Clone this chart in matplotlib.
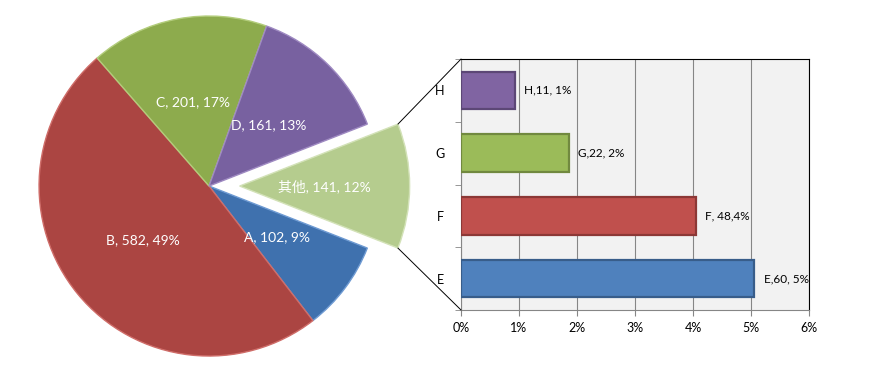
import matplotlib

matplotlib.use("Agg")
import matplotlib.pyplot as plt
import matplotlib.ticker as ticker
import numpy as np
from matplotlib.patches import ConnectionPatch

plt.rcParams["font.family"] = ["Lato", "Noto Sans CJK SC", "DejaVu Sans"]

# --- data ---
pie_names = ["A", "B", "C", "D", "其他"]
pie_values = [102, 582, 201, 161, 141]
pie_pct_text = ["9%", "49%", "17%", "13%", "12%"]
pie_colors = ["#3f71ae", "#ab4542", "#8dab4d", "#7861a0", "#b5cc8e"]
pie_edges = ["#6f9bd3", "#cf6d69", "#b3cd7c", "#9f8ac2", "#d3e2b8"]

bar_names = ["E", "F", "G", "H"]
bar_counts = [60, 48, 22, 11]
bar_label_text = ["E,60, 5%", "F, 48,4%", "G,22, 2%", "H,11, 1%"]
bar_colors = ["#4f81bd", "#c0504d", "#9bbb59", "#8064a2"]
bar_edges = ["#385d8a", "#8c3836", "#71893f", "#5c4776"]

total = sum(pie_values)
bar_shares = [c / total for c in bar_counts]

fig = plt.figure(figsize=(8.71, 3.82), dpi=100)

# --- pie (left) ---
ax_pie = fig.add_axes([0.0448, 0.068, 0.3904, 0.890])
labels = [f"{n}, {v}, {p}" for n, v, p in zip(pie_names, pie_values, pie_pct_text)]
wedges, texts = ax_pie.pie(
    pie_values,
    labels=labels,
    colors=pie_colors,
    explode=[0, 0, 0, 0, 0.18],
    startangle=-21.4,
    counterclock=False,
    labeldistance=0.5,
    wedgeprops=dict(linewidth=1.0),
    textprops=dict(color="white", fontsize=10),
)
for w, ec in zip(wedges, pie_edges):
    w.set_edgecolor(ec)
    w.set_clip_on(False)
for t in texts:
    t.set_horizontalalignment("center")
    t.set_verticalalignment("center")
ax_pie.set_xlim(-1, 1)
ax_pie.set_ylim(-1, 1)
ax_pie.set_aspect("equal")
ax_pie.axis("off")

# --- bar (right) ---
ax_bar = fig.add_axes([0.5293, 0.1885, 0.3995, 0.657])
ax_bar.set_facecolor("#f2f2f2")
y = np.arange(len(bar_names))
bars = ax_bar.barh(y, bar_shares, height=0.6, color=bar_colors,
                   edgecolor=bar_edges, linewidth=1.6, zorder=3)
for b, txt in zip(bars, bar_label_text):
    ax_bar.annotate(txt, (b.get_width(), b.get_y() + b.get_height() / 2),
                    xytext=(7, 0), textcoords="offset points",
                    va="center", ha="left", fontsize=8.5, color="black")

ax_bar.set_xlim(0, 0.06)
ax_bar.set_ylim(-0.5, len(bar_names) - 0.5)
ax_bar.xaxis.set_major_locator(ticker.MultipleLocator(0.01))
ax_bar.xaxis.set_major_formatter(ticker.PercentFormatter(1, decimals=0))
ax_bar.set_yticks(y)
ax_bar.set_yticklabels(bar_names)
ax_bar.yaxis.set_minor_locator(ticker.FixedLocator(np.arange(-0.5, len(bar_names), 1)))
ax_bar.tick_params(axis="y", which="major", length=0, pad=12, labelsize=9)
ax_bar.tick_params(axis="y", which="minor", length=4, color="#868686", direction="out")
ax_bar.tick_params(axis="x", length=4, color="#868686", direction="out", labelsize=9, pad=5)
ax_bar.grid(axis="x", color="#868686", linewidth=0.8, zorder=0)
ax_bar.set_axisbelow(True)
for side in ("left", "bottom"):
    ax_bar.spines[side].set_color("#868686")
for side in ("top", "right"):
    ax_bar.spines[side].set_color("black")

# --- connection lines from exploded slice to bar chart ---
other = wedges[-1]
cx, cy = other.center
r = other.r
for theta, corner in ((other.theta2, (0, 1)), (other.theta1, (0, 0))):
    pt = (cx + r * np.cos(np.radians(theta)), cy + r * np.sin(np.radians(theta)))
    con = ConnectionPatch(xyA=pt, coordsA=ax_pie.transData,
                          xyB=corner, coordsB=ax_bar.transAxes,
                          color="black", linewidth=0.7)
    fig.add_artist(con)

fig.savefig("out.png", dpi=100, facecolor="white")
